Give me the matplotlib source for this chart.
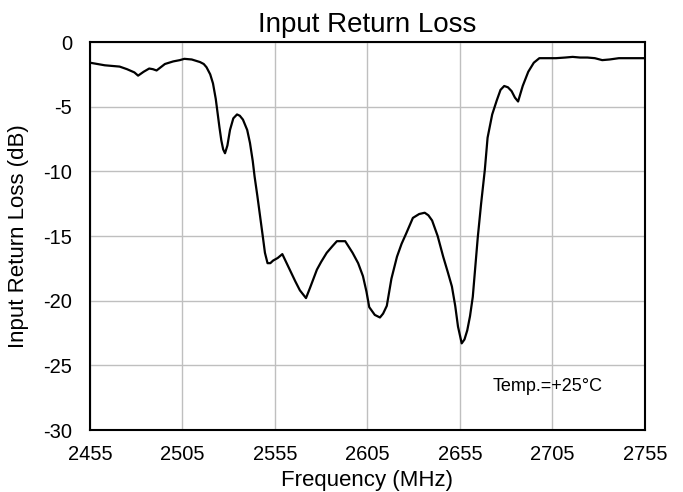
import matplotlib.pyplot as plt

plt.rcParams['font.family'] = ['Liberation Sans', 'DejaVu Sans']
plt.rcParams['axes.unicode_minus'] = False

# Frequency (MHz) and return loss (dB)
freq = [2455, 2459, 2463, 2467, 2471, 2475, 2479, 2481, 2484, 2487, 2489, 2491,
        2495.5, 2500, 2503.6, 2506, 2510, 2514.5, 2516.5, 2518, 2520, 2521.5,
        2523, 2524, 2525, 2526, 2527, 2528, 2529.3, 2530.7, 2532.5, 2534.5, 2536,
        2537.7, 2540, 2541.5, 2543, 2544, 2545.5, 2547, 2548.5, 2549.6, 2551,
        2552.5, 2554, 2556.5, 2559, 2561, 2563, 2566, 2568.5, 2571.8, 2574,
        2577.7, 2580, 2583, 2586, 2588.5, 2593, 2597, 2600, 2602.6, 2604.5, 2606,
        2609, 2611.8, 2613.5, 2615.5, 2618, 2621, 2623.5, 2626, 2629.6, 2633,
        2636, 2638, 2640, 2643, 2646, 2648.5, 2650.7, 2652.5, 2654, 2656, 2657.5,
        2659, 2660.5, 2662, 2664.7, 2666.5, 2668.5, 2670, 2672.5, 2675, 2677,
        2679, 2681, 2683, 2684.8, 2686.5, 2689, 2692, 2695, 2698, 2702, 2707,
        2712, 2716, 2720, 2724, 2728, 2732, 2736, 2741, 2748, 2755]
loss = [-1.6, -1.7, -1.8, -1.85, -1.9, -2.1, -2.35, -2.6, -2.3, -2.05, -2.1, -2.2,
        -1.7, -1.5, -1.4, -1.3, -1.35, -1.55, -1.7, -1.95, -2.5, -3.2,
        -4.4, -5.5, -6.6, -7.6, -8.3, -8.6, -8.0, -6.8, -5.9, -5.6, -5.7,
        -6.0, -6.8, -7.8, -9.2, -10.4, -11.9, -13.5, -15.1, -16.3, -17.1,
        -17.1, -16.9, -16.7, -16.4, -17.0, -17.6, -18.5, -19.2, -19.8, -19.0,
        -17.6, -17.0, -16.3, -15.8, -15.4, -15.4, -16.3, -17.1, -18.1, -19.3, -20.5,
        -21.1, -21.3, -21.0, -20.4, -18.3, -16.6, -15.6, -14.8, -13.6, -13.3,
        -13.2, -13.4, -13.8, -15.0, -16.6, -17.8, -18.9, -20.4, -22.0, -23.3, -23.0,
        -22.3, -21.2, -19.7, -15.1, -12.5, -9.9, -7.4, -5.6, -4.5, -3.7,
        -3.4, -3.5, -3.8, -4.3, -4.6, -3.4, -2.3, -1.6, -1.25, -1.25, -1.25,
        -1.2, -1.15, -1.2, -1.2, -1.25, -1.4, -1.35, -1.25, -1.25, -1.25]

xticks = [2455, 2505, 2555, 2605, 2655, 2705, 2755]
yticks = [0, -5, -10, -15, -20, -25, -30]

fig = plt.figure(figsize=(6.83, 4.92), dpi=100)
ax = fig.add_axes([0.1318, 0.126, 0.8122, 0.7886])

ax.plot(freq, loss, color='black', linewidth=1.6)

ax.set_xlim(2455, 2755)
ax.set_ylim(-30, 0)
ax.set_xticks(xticks)
ax.set_yticks(yticks)
ax.tick_params(length=0, labelsize=14.5)
ax.tick_params(axis='x', pad=11)
ax.tick_params(axis='y', pad=13)
ax.grid(color='#bfbfbf', linewidth=1)
ax.set_axisbelow(True)
for s in ax.spines.values():
    s.set_linewidth(1.5)
    s.set_color('black')

ax.set_title('Input Return Loss', fontsize=20, pad=7)
ax.set_xlabel('Frequency (MHz)', fontsize=16, labelpad=4)
ax.set_ylabel('Input Return Loss (dB)', fontsize=16, labelpad=10)

ax.text(2702.3, -26.6, 'Temp.=+25°C', ha='center', va='center', fontsize=13)

plt.savefig('out.png', dpi=100)
plt.close()
